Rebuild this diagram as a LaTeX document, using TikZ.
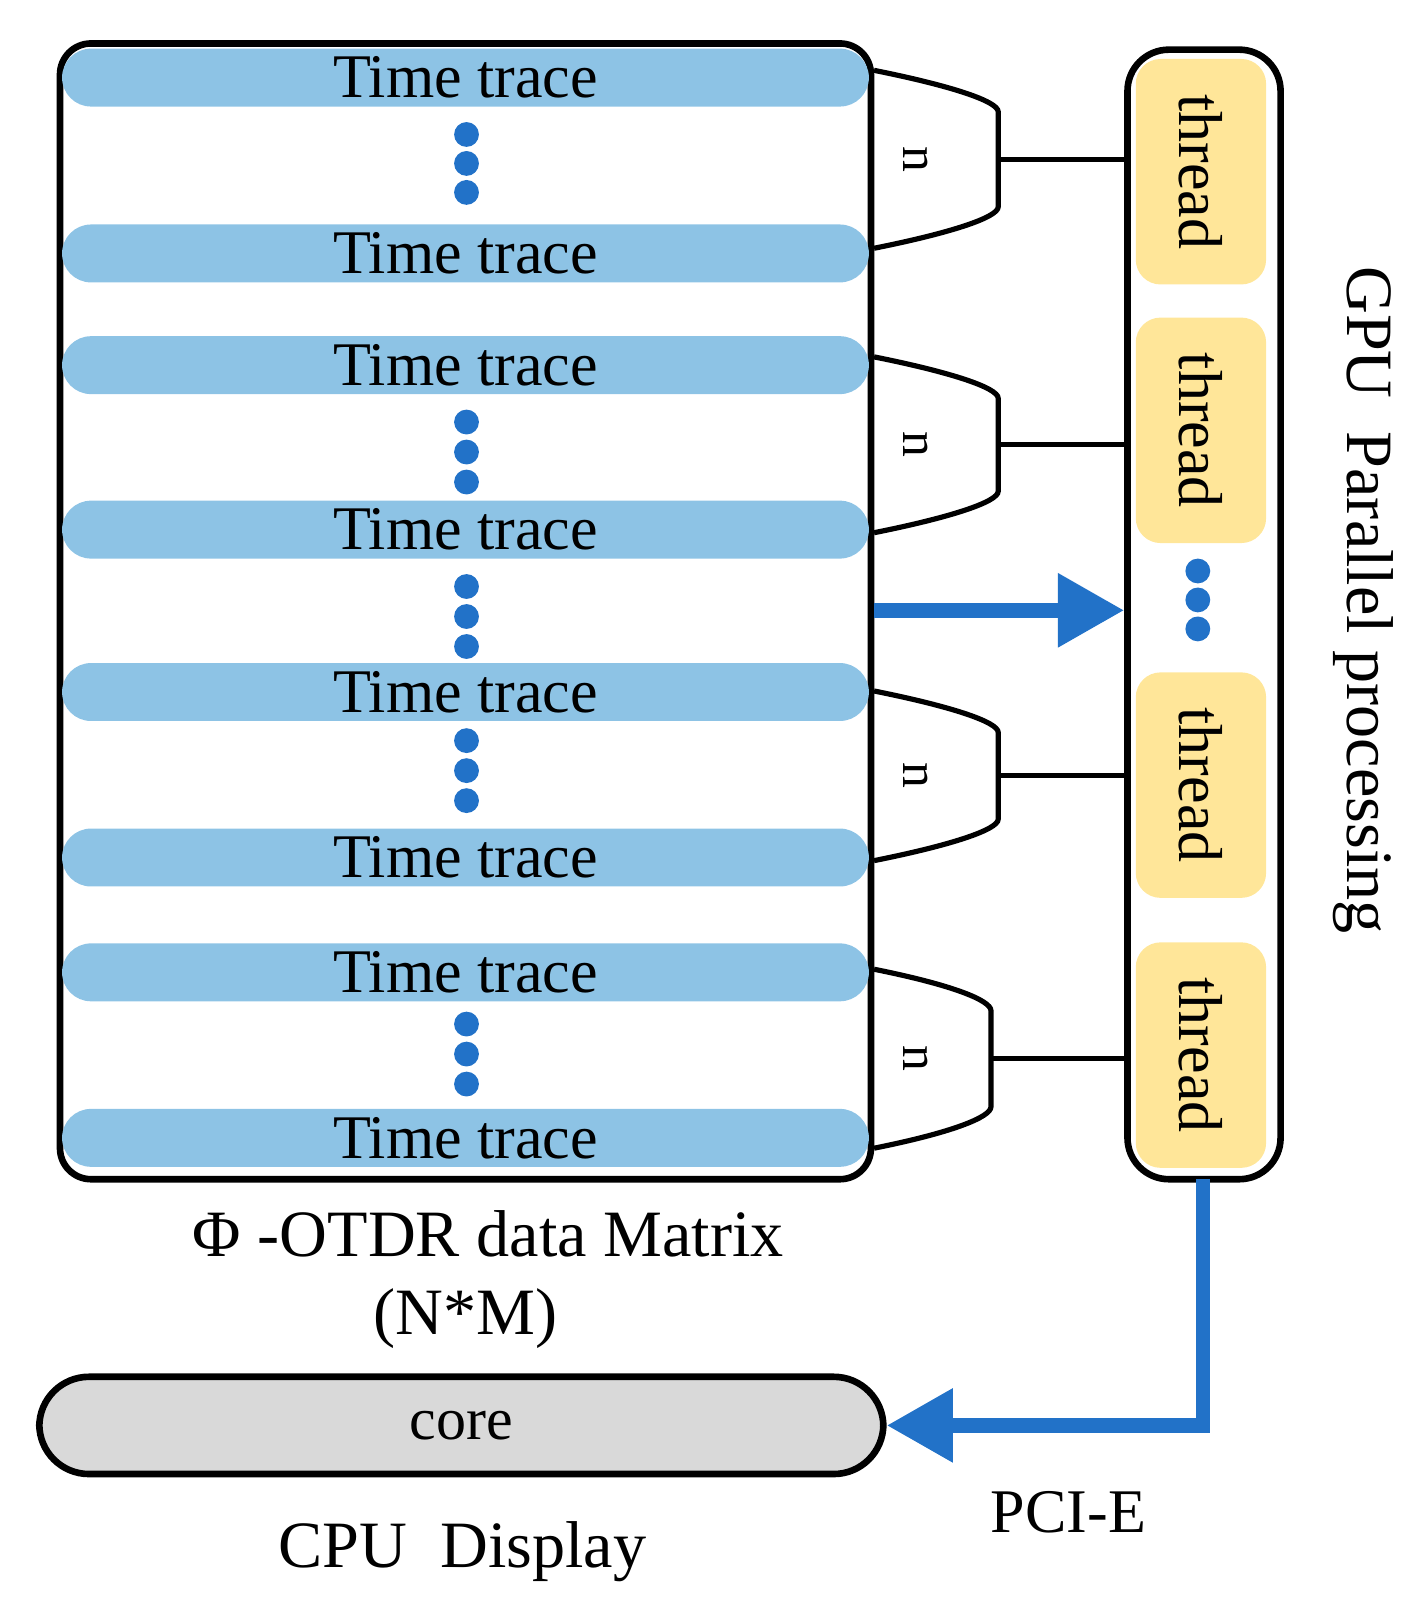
\documentclass[tikz,border=0pt]{standalone}
\usepackage{fontspec}
\setmainfont{Liberation Serif}
\usetikzlibrary{arrows.meta}
\definecolor{tb}{HTML}{8DC3E5}
\definecolor{db}{HTML}{2272C8}
\definecolor{ty}{HTML}{FFE699}
\definecolor{cg}{HTML}{D9D9D9}
\begin{document}
\begin{tikzpicture}[x=0.5pt,y=-0.5pt,
  trace/.style={fill=tb,rounded corners=14pt,minimum width=390pt,minimum height=28pt,inner sep=0pt,font=\fontsize{30}{30}\selectfont},
  thr/.style={fill=ty,rounded corners=12pt,minimum height=63pt,minimum width=109pt,inner sep=0pt,rotate=-90,font=\fontsize{30}{30}\selectfont},
  dot/.style={circle,fill=db,inner sep=0pt,minimum size=12pt},
  box/.style={line width=3.2pt},
  brk/.style={line width=2.5pt},
  lbl/.style={font=\fontsize{32}{32}\selectfont}]
\useasboundingbox (0,0) rectangle (1380,1570);
% matrix box
\draw[box,rounded corners=15pt] (58,42) rectangle (842,1140);
\foreach \n/\y in {t1/75,t2/245,t3/353,t4/512,t5/669,t6/829,t7/940,t8/1100}
  \node[trace] (\n) at (450,\y) {Time trace};
\foreach \i/\y in {a/130,b/158,c/186,d/408,e/437,f/466,g/567,h/596,i/625,j/716,k/745,l/774,m/990,o/1019,p/1048}
  \node[dot] (d\i) at (451,\y) {};
% GPU box
\node[box,draw,rounded corners=20pt,minimum width=74pt,minimum height=546pt,inner sep=0pt] (gpu) at (1164,594) {};
\node[thr] (h1) at (1161,166) {thread};
\node[thr] (h2) at (1161,416) {thread};
\node[thr] (h3) at (1161,759) {thread};
\node[thr] (h4) at (1161,1020) {thread};
\foreach \i/\y in {a/552,b/580,c/608} \node[dot] (g\i) at (1158,\y) {};
% brackets
\foreach \a/\b/\xe in {68/240/965,345/515/965,668/832/965,937/1110/958}{
  \draw[brk] (845,\a) .. controls (920,{\a+15}) and (\xe,{\a+30}) .. (\xe,{\a+40})
     -- (\xe,{\b-40}) .. controls (\xe,{\b-30}) and (920,{\b-15}) .. (845,\b);
  \coordinate (m) at (\xe,{(\a+\b)/2});
  \draw[brk] (m) -- (gpu.west |- m);
  \node[rotate=-90,font=\fontsize{25}{25}\selectfont] at (885,{(\a+\b)/2}) {n};
}
% arrows
\coordinate (as) at (845,590);
\draw[db,line width=7pt,-{Triangle[length=32pt,width=34pt]}] (as) -- (gpu.west |- as);
\node[fill=cg,draw,box,rounded corners=24pt,minimum width=408pt,minimum height=47pt,inner sep=0pt,font=\fontsize{29}{29}\selectfont] (core) at (446,1378) {core};
\coordinate (ps) at (1163,1140);
\draw[db,line width=7pt,-{Triangle[length=32pt,width=34pt]}] (ps) |- (core.east);
% labels
\node[lbl,rotate=-90] at (1318,580) {GPU\ \ Parallel processing};
\node[lbl] at (472,1193) {Φ -OTDR data Matrix};
\node[lbl] at (450,1275) {(N*M)};
\node[font=\fontsize{30}{30}\selectfont] at (1033,1462) {PCI-E};
\node[lbl] at (447,1500) {CPU\ \ Display};
\end{tikzpicture}
\end{document}
